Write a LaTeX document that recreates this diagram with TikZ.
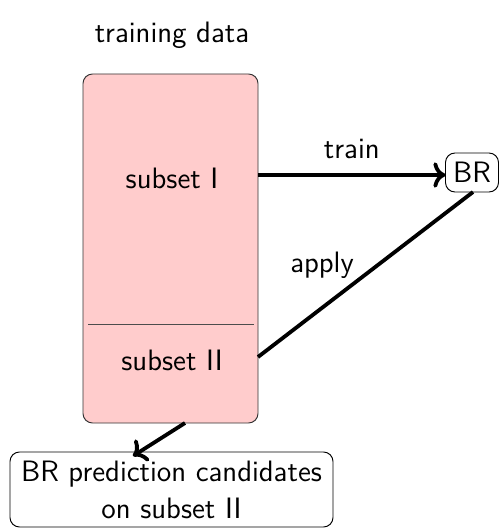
\documentclass[tikz,border=0pt]{standalone}
\usetikzlibrary{arrows.meta}
\begin{document}
\begin{tikzpicture}[x=0.42pt,y=-0.42pt,
  font=\sffamily\fontsize{12.4}{15.5}\selectfont,
  every node/.style={inner sep=0pt,outer sep=0pt},
  databox/.style={draw=black!80,fill=red!20,rounded corners=4pt,
    minimum width=175*0.42pt,minimum height=349*0.42pt},
  roundbox/.style={draw,rounded corners=4pt,align=center},
  link/.style={ultra thick},
  linkarrow/.style={ultra thick,->}]
\useasboundingbox (0,0) rectangle (499,528);
% training data set, split into two subsets
\node[databox] (data) at (170.5,248.5) {};
\node (title) at (172,35) {training data};
\draw[black!70] (88,324) coordinate (divl) -- (254,324) coordinate (divr);
\node (s1) at (172,178) {subset I};
\node (s2) at (172,360) {subset II};
\coordinate (s1e) at (258,175);
\coordinate (s2e) at (258,357);
\coordinate (dbot) at (185,423);
% model and its output
\node[roundbox,minimum width=53*0.42pt,minimum height=39*0.42pt] (br) at (472,172.5) {BR};
\node[roundbox,minimum width=323*0.42pt,minimum height=75*0.42pt] (out) at (171.5,489.5)
  {BR prediction candidates\\on subset II};
\coordinate (brs) at (473,192);
\coordinate (outn) at (133,456);
% connectors
\draw[linkarrow] (s1e) -- (s1e -| br.west) node[midway,above=7pt] (ltrain) {train};
\draw[link] (brs) -- (s2e);
\node (lapply) at (322,265) {apply};
\draw[linkarrow] (dbot) -- (outn);
\end{tikzpicture}
\end{document}
